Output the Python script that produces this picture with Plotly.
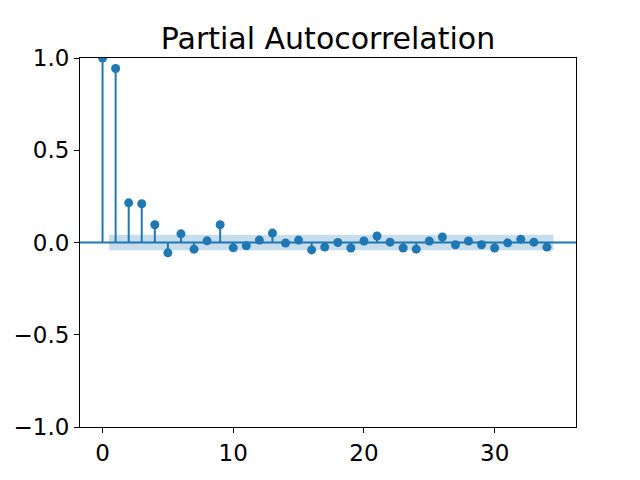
import plotly.graph_objects as go

lags = list(range(35))
pacf_values = [1.0, 0.943, 0.215, 0.21, 0.096, -0.056, 0.047, -0.036, 0.009, 0.096,
               -0.029, -0.018, 0.013, 0.051, -0.003, 0.013, -0.04, -0.025, 0.0, -0.03,
               0.008, 0.035, 0.002, -0.03, -0.036, 0.008, 0.03, -0.012, 0.008, -0.012,
               -0.03, -0.002, 0.018, 0.002, -0.025]
conf_limit = 0.042
band_x = [0.5, 34.5]
x_ticks = [0, 10, 20, 30]
y_ticks = [-1.0, -0.5, 0.0, 0.5, 1.0]

C0 = "#1f77b4"

stem_x, stem_y = [], []
for lag, v in zip(lags, pacf_values):
    stem_x += [lag, lag, None]
    stem_y += [0, v, None]

fig = go.Figure()
# confidence band
fig.add_trace(go.Scatter(
    x=[band_x[0], band_x[1], band_x[1], band_x[0], band_x[0]],
    y=[conf_limit, conf_limit, -conf_limit, -conf_limit, conf_limit],
    fill="toself", fillcolor="rgba(31,119,180,0.25)", line=dict(width=0),
    mode="lines", hoverinfo="skip", showlegend=False))
# zero line
fig.add_shape(type="line", xref="paper", yref="y", x0=0, x1=1, y0=0, y1=0,
              line=dict(color=C0, width=2))
# stems
fig.add_trace(go.Scatter(x=stem_x, y=stem_y, mode="lines",
                         line=dict(color=C0, width=2), showlegend=False))
# markers
fig.add_trace(go.Scatter(x=lags, y=pacf_values, mode="markers",
                         marker=dict(color=C0, size=9), showlegend=False))

axis_common = dict(showgrid=False, zeroline=False, showline=True, mirror=True,
                   linecolor="black", linewidth=1, ticks="outside", ticklen=5,
                   tickwidth=1, tickcolor="black", automargin=False,
                   tickfont=dict(family="DejaVu Sans", size=23, color="black"))
fig.update_xaxes(range=[-1.725, 36.225], tickvals=x_ticks, **axis_common)
fig.update_yaxes(range=[-1.0, 1.0], tickvals=y_ticks, tickformat=".1f", **axis_common)

fig.update_layout(
    width=600, height=462,
    margin=dict(l=72, r=32, t=50, b=43),
    plot_bgcolor="white", paper_bgcolor="white",
    title=dict(text="Partial Autocorrelation", x=0.5, xref="paper", xanchor="center",
               y=1, yref="paper", yanchor="bottom", pad=dict(b=9),
               font=dict(family="DejaVu Sans", size=30, color="black")),
)
fig.write_html("out.html")
